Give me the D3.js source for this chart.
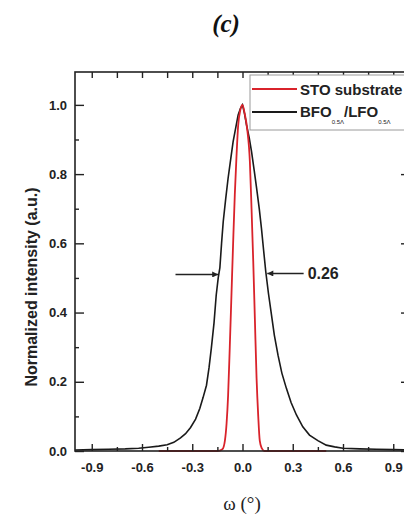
<!DOCTYPE html>
<meta charset="utf-8">
<script src="https://d3js.org/d3.v7.min.js"></script>
<style>
  body { margin: 0; background: #fff; }
  text { font-family: "Liberation Sans", Arial, sans-serif; }
</style>
<div id="chart"></div>
<script>
var width = 404, height = 519

// rocking curve, STO substrate (red)
var stoX = [-0.5, -0.3, -0.15, -0.12, -0.105, -0.095, -0.086, -0.076, -0.066, -0.056, -0.046, -0.036, -0.026, -0.013, 0,
            0.013, 0.028, 0.044, 0.054, 0.064, 0.074, 0.084, 0.094, 0.103, 0.115, 0.13, 0.3, 0.5]
var stoY = [0, 0, 0, 0.005, 0.03, 0.08, 0.16, 0.3, 0.45, 0.6, 0.74, 0.85, 0.94, 0.985, 1.0,
            0.975, 0.93, 0.836, 0.7, 0.55, 0.38, 0.21, 0.1, 0.03, 0.008, 0, 0, 0]

// rocking curve, BFO/LFO superlattice (black)
var bfoX = [-1.0, -0.9, -0.8, -0.7, -0.62, -0.56, -0.5, -0.45, -0.41, -0.37, -0.34, -0.31, -0.28, -0.255, -0.235,
            -0.215, -0.2, -0.186, -0.17, -0.157, -0.145, -0.135, -0.125, -0.115, -0.1, -0.086, -0.07, -0.056,
            -0.04, -0.026, -0.012, 0, 0.012, 0.024, 0.04, 0.054, 0.07, 0.084, 0.1, 0.113, 0.126, 0.139, 0.155,
            0.173, 0.19, 0.212, 0.235, 0.262, 0.29, 0.322, 0.36, 0.4, 0.45, 0.5, 0.55, 0.6, 0.7, 0.8, 0.9, 1.0]
var bfoY = [0.003, 0.004, 0.005, 0.006, 0.008, 0.011, 0.014, 0.018, 0.025, 0.038, 0.05, 0.068, 0.092, 0.123, 0.155,
            0.19, 0.24, 0.297, 0.37, 0.45, 0.5, 0.53, 0.6, 0.663, 0.73, 0.788, 0.845, 0.894,
            0.935, 0.971, 0.99, 1.0, 0.975, 0.942, 0.905, 0.865, 0.81, 0.76, 0.7, 0.644, 0.58, 0.518, 0.455,
            0.393, 0.335, 0.277, 0.225, 0.181, 0.14, 0.104, 0.07, 0.046, 0.03, 0.017, 0.012, 0.008, 0.006, 0.005, 0.004, 0.003]

var xTicks = [-0.9, -0.6, -0.3, 0, 0.3, 0.6, 0.9]
var xMinor = [-0.75, -0.45, -0.15, 0.15, 0.45, 0.75]
var yTicks = [0, 0.2, 0.4, 0.6, 0.8, 1.0]
var yMinor = [0.1, 0.3, 0.5, 0.7, 0.9]

var fwhmText = "0.26"
var fwhmLevel = 0.51
var fwhmLeft = [-0.4, -0.145]   // arrow tail, head
var fwhmRight = [0.365, 0.148]

var fmt = function(d) { return d.toFixed(1) }

var x = d3.scaleLinear().domain([-1, 1]).range([75, 410])
var y = d3.scaleLinear().domain([0, 1.095]).range([451, 72])

var svg = d3.select("#chart").append("svg")
    .attr("width", width)
    .attr("height", height)

svg.append("defs").append("marker")
    .attr("id", "head")
    .attr("viewBox", "0 0 10 10")
    .attr("refX", 10).attr("refY", 5)
    .attr("markerWidth", 7).attr("markerHeight", 6)
    .attr("markerUnits", "userSpaceOnUse")
    .attr("orient", "auto")
  .append("path")
    .attr("d", "M0,0L10,5L0,10Z")
    .attr("fill", "#222")

// curves
var line = d3.line()
    .x(function(d) { return x(d[0]) })
    .y(function(d) { return y(d[1]) })

svg.append("path")
    .datum(d3.zip(bfoX, bfoY))
    .attr("d", line)
    .attr("fill", "none")
    .attr("stroke", "#1a1a1a")
    .attr("stroke-width", 1.6)

svg.append("path")
    .datum(d3.zip(stoX, stoY))
    .attr("d", line.curve(d3.curveMonotoneX))
    .attr("fill", "none")
    .attr("stroke", "#d9232b")
    .attr("stroke-width", 1.8)

// axes
function styleAxis(g) {
  g.select(".domain").remove()
  g.selectAll("line").attr("stroke", "#222").attr("stroke-width", 1.4)
  g.selectAll("text").attr("fill", "#222")
    .style("font-size", "13px").style("font-weight", "bold")
    .style("font-family", "'Liberation Sans', Arial, sans-serif")
}

svg.append("g").attr("transform", "translate(0,451)")
    .call(d3.axisBottom(x).tickValues(xTicks).tickSizeInner(-7).tickSizeOuter(0).tickPadding(12).tickFormat(fmt))
    .call(styleAxis)
svg.append("g").attr("transform", "translate(0,451)")
    .call(d3.axisBottom(x).tickValues(xMinor).tickSizeInner(-4).tickSizeOuter(0).tickFormat(""))
    .call(styleAxis)
svg.append("g").attr("transform", "translate(0,72)")
    .call(d3.axisTop(x).tickValues(xTicks.concat(xMinor)).tickSizeInner(-6).tickSizeOuter(0).tickFormat(""))
    .call(styleAxis)

svg.append("g").attr("transform", "translate(75,0)")
    .call(d3.axisLeft(y).tickValues(yTicks).tickSizeInner(-9).tickSizeOuter(0).tickPadding(8).tickFormat(fmt))
    .call(styleAxis)
svg.append("g").attr("transform", "translate(75,0)")
    .call(d3.axisLeft(y).tickValues(yMinor).tickSizeInner(-4).tickSizeOuter(0).tickFormat(""))
    .call(styleAxis)
svg.append("g").attr("transform", "translate(410,0)")
    .call(d3.axisRight(y).tickValues(yTicks).tickSizeInner(-9).tickSizeOuter(0).tickFormat(""))
    .call(styleAxis)

// frame
svg.append("rect")
    .attr("x", x(-1)).attr("y", y(1.095))
    .attr("width", x(1) - x(-1)).attr("height", y(0) - y(1.095))
    .attr("fill", "none")
    .attr("stroke", "#222")
    .attr("stroke-width", 1.6)

// FWHM arrows
svg.append("line")
    .attr("x1", x(fwhmLeft[0])).attr("x2", x(fwhmLeft[1]))
    .attr("y1", y(fwhmLevel)).attr("y2", y(fwhmLevel))
    .attr("stroke", "#222").attr("stroke-width", 1.5)
    .attr("marker-end", "url(#head)")
svg.append("line")
    .attr("x1", x(fwhmRight[0])).attr("x2", x(fwhmRight[1]))
    .attr("y1", y(fwhmLevel) - 1).attr("y2", y(fwhmLevel) - 1)
    .attr("stroke", "#222").attr("stroke-width", 1.5)
    .attr("marker-end", "url(#head)")
svg.append("text")
    .attr("x", x(fwhmRight[0]) + 4).attr("y", y(fwhmLevel) + 5)
    .style("font-size", "16px").style("font-weight", "bold")
    .attr("fill", "#222")
    .text(fwhmText)

// legend
var leg = svg.append("g").attr("transform", "translate(250,75)")
leg.append("rect")
    .attr("width", 200).attr("height", 55)
    .attr("fill", "#fff").attr("stroke", "#9a9a9a").attr("stroke-width", 1)
leg.append("line").attr("x1", 2).attr("x2", 47).attr("y1", 14).attr("y2", 14)
    .attr("stroke", "#d9232b").attr("stroke-width", 1.8)
leg.append("line").attr("x1", 2).attr("x2", 47).attr("y1", 37).attr("y2", 37)
    .attr("stroke", "#1a1a1a").attr("stroke-width", 1.8)
leg.append("text").attr("x", 50).attr("y", 20)
    .style("font-size", "15px").style("font-weight", "bold").attr("fill", "#222")
    .text("STO substrate")
var t2 = leg.append("text").attr("x", 50).attr("y", 42)
    .style("font-size", "15px").style("font-weight", "bold").attr("fill", "#222")
t2.append("tspan").text("BFO")
t2.append("tspan").attr("dy", 7).style("font-size", "6px").style("font-weight", "normal").text("0.5Λ")
t2.append("tspan").attr("dy", -7).text("/LFO")
t2.append("tspan").attr("dy", 7).style("font-size", "6px").style("font-weight", "normal").text("0.5Λ")

// labels
svg.append("text")
    .attr("transform", "translate(37,287) rotate(-90)")
    .attr("text-anchor", "middle")
    .style("font-size", "16px").style("font-weight", "bold").attr("fill", "#222")
    .text("Normalized intensity (a.u.)")

svg.append("text")
    .attr("x", 242).attr("y", 510)
    .attr("text-anchor", "middle")
    .style("font-family", "'Liberation Serif', 'Times New Roman', serif")
    .style("font-size", "19px").attr("fill", "#222")
    .text("ω (°)")

svg.append("text")
    .attr("x", 226).attr("y", 32)
    .attr("text-anchor", "middle")
    .style("font-family", "'Liberation Serif', 'Times New Roman', serif")
    .style("font-size", "25px").style("font-weight", "bold").style("font-style", "italic")
    .attr("fill", "#111")
    .text("(c)")
</script>
